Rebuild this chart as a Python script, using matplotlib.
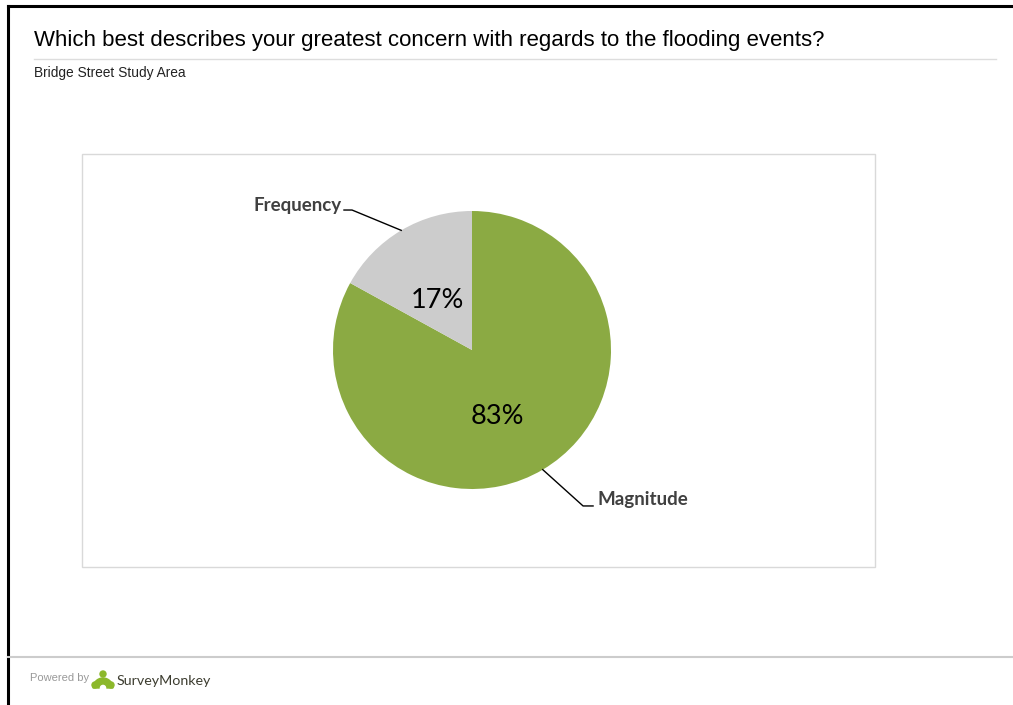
import matplotlib.pyplot as plt
import matplotlib.patches as mpatches
import numpy as np

# Data
categories = ['Magnitude', 'Frequency']
shares = [83, 17]
colors = ['#8BAA43', '#CCCCCC']

title = 'Which best describes your greatest concern with regards to the flooding events?'
subtitle = 'Bridge Street Study Area'

W, H = 1013, 705
fig = plt.figure(figsize=(W / 100, H / 100), dpi=100)

# overlay axis in pixel coords (y down) for the page decorations
bg = fig.add_axes([0, 0, 1, 1])
bg.set_xlim(0, W)
bg.set_ylim(H, 0)
bg.axis('off')

# page frame
bg.plot([7.5, 7.5], [6, H], color='black', lw=2.2)
bg.plot([7.5, W], [6, 6], color='black', lw=2.2)

bg.text(34, 40.5, title, fontsize=16, family='Liberation Sans', color='black', va='center', ha='left')
bg.plot([34, 996], [59, 59], color='#DDDDDD', lw=1)
bg.text(34, 73, subtitle, fontsize=9.9, family='Liberation Sans', color='#222222', va='center', ha='left')

# chart box
bg.add_patch(mpatches.Rectangle((82, 154), 793, 413, fill=False, ec='#D9D9D9', lw=1))

# footer
bg.plot([8, W], [657, 657], color='#CCCCCC', lw=1.5)
bg.text(30, 678, 'Powered by', fontsize=8, family='Liberation Sans', color='#999999', va='center')
bg.add_patch(mpatches.Wedge((103, 688), 10, 180, 360, width=6, color='#8CB82B'))
bg.add_patch(mpatches.Circle((103, 674), 3, color='#8CB82B'))
bg.add_patch(mpatches.Circle((95, 685), 3, color='#8CB82B'))
bg.add_patch(mpatches.Circle((111, 685), 3, color='#8CB82B'))
bg.text(117, 681, 'SurveyMonkey', fontsize=10.3, family='Lato', color='#3D3D30', va='center')

# pie
cx, cy, r = 472, 350, 139
pax = fig.add_axes([(cx - r) / W, (H - cy - r) / H, 2 * r / W, 2 * r / H])
wedges, _, autotexts = pax.pie(shares, colors=colors, startangle=90, counterclock=False,
                               autopct='%d%%', pctdistance=0.47, radius=1,
                               textprops={'fontsize': 19.5, 'family': 'Lato', 'color': 'black'})
pax.set_xlim(-1, 1)
pax.set_ylim(-1, 1)
pax.set_aspect('auto')
pax.axis('off')

# percentage label placement as in the reference
pct_pos = {'Magnitude': (0.18, -0.475), 'Frequency': (-0.25, 0.355)}
for t, name in zip(autotexts, categories):
    t.set_position(pct_pos[name])

# leader lines and category labels
label_pos = {'Frequency': ((-0.863, 1.007), (-0.921, 1.007), (-0.935, 1.043), 'right'),
             'Magnitude': ((0.799, -1.122), (0.871, -1.122), (0.90, -1.072), 'left')}
for w, name in zip(wedges, categories):
    mid = np.deg2rad((w.theta1 + w.theta2) / 2)
    elbow, end, tpos, ha = label_pos[name]
    pax.plot([np.cos(mid), elbow[0], end[0]], [np.sin(mid), elbow[1], end[1]],
             color='black', lw=1, clip_on=False)
    pax.text(tpos[0], tpos[1], name, fontsize=13.5, fontweight='bold', family='Lato',
             color='#404040', ha=ha, va='center', clip_on=False)

fig.savefig('out.png', dpi=100)
